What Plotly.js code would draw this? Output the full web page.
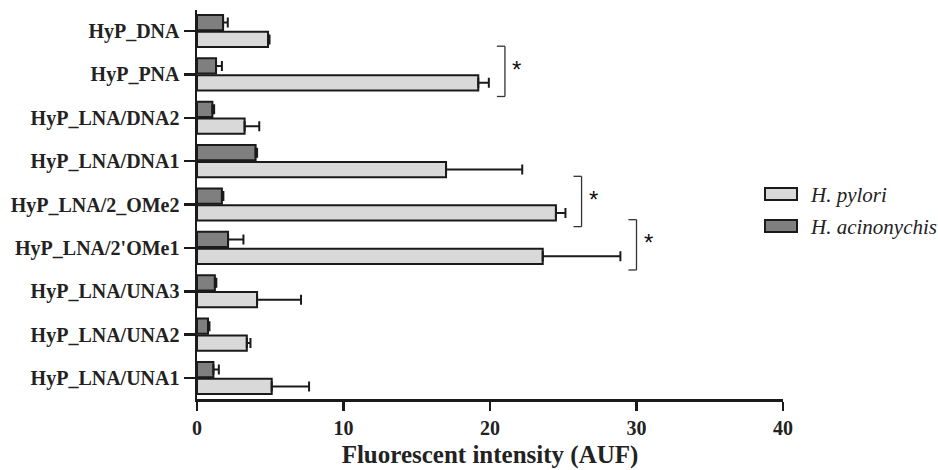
<!DOCTYPE html>
<html>
<head>
<meta charset="utf-8">
<script src="https://cdn.plot.ly/plotly-3.0.1.min.js"></script>
<style>html,body{margin:0;padding:0;background:#fff;}#chart{width:938px;height:470px;}</style>
</head>
<body>
<div id="chart"></div>
<script>
// Categories listed bottom-to-top
const categories = ['HyP_LNA/UNA1', 'HyP_LNA/UNA2', 'HyP_LNA/UNA3', "HyP_LNA/2'OMe1", 'HyP_LNA/2_OMe2', 'HyP_LNA/DNA1', 'HyP_LNA/DNA2', 'HyP_PNA', 'HyP_DNA'];
const pylori = [5.1, 3.4, 4.1, 23.6, 24.5, 17.0, 3.25, 19.2, 4.85];
const pyloriErr = [2.55, 0.25, 3.0, 5.3, 0.65, 5.2, 1.0, 0.72, 0.1];
const acinonychis = [1.12, 0.75, 1.22, 2.12, 1.7, 4.0, 1.05, 1.3, 1.78];
const acinonychisErr = [0.37, 0.1, 0.1, 1.05, 0.1, 0.1, 0.12, 0.4, 0.32];
const zeroErr = [0, 0, 0, 0, 0, 0, 0, 0, 0];
const significant = ['HyP_PNA', 'HyP_LNA/2_OMe2', "HyP_LNA/2'OMe1"];
const seriesNames = ['H. pylori', 'H. acinonychis'];
const seriesColors = ['#d9d9d9', '#7f7f7f'];
const xTicks = [0, 10, 20, 30, 40];

const serif = 'Liberation Serif, Times New Roman, serif';
const outline = {color: '#1a1a1a', width: 2};

const traces = [
  {
    type: 'bar', orientation: 'h', name: seriesNames[0],
    y: categories, x: pylori,
    marker: {color: seriesColors[0], line: outline},
    error_x: {type: 'data', symmetric: false, array: pyloriErr, arrayminus: zeroErr, color: '#1a1a1a', thickness: 2, width: 5},
    showlegend: false
  },
  {
    type: 'bar', orientation: 'h', name: seriesNames[1],
    y: categories, x: acinonychis,
    marker: {color: seriesColors[1], line: outline},
    error_x: {type: 'data', symmetric: false, array: acinonychisErr, arrayminus: zeroErr, color: '#1a1a1a', thickness: 2, width: 5},
    showlegend: false
  }
];

const shapes = [];
const annotations = [];
significant.forEach(function (name) {
  const i = categories.indexOf(name);
  const xb = pylori[i] + pyloriErr[i] + 1.1;
  const yt = i + 0.65, yb = i - 0.51;
  const ln = {color: '#333', width: 1.3};
  shapes.push({type: 'line', xref: 'x', yref: 'y', x0: xb - 0.55, x1: xb, y0: yt, y1: yt, line: ln});
  shapes.push({type: 'line', xref: 'x', yref: 'y', x0: xb, x1: xb, y0: yt, y1: yb, line: ln});
  shapes.push({type: 'line', xref: 'x', yref: 'y', x0: xb - 0.55, x1: xb, y0: yb, y1: yb, line: ln});
  annotations.push({xref: 'x', yref: 'y', x: xb + 0.8, y: i + 0.12, text: '*', showarrow: false,
    xanchor: 'center', yanchor: 'middle', font: {family: 'Liberation Sans, Arial, sans-serif', size: 24, color: '#111'}});
});

// Legend (drawn in paper coordinates: plot area spans x 197..783 px, y 10..399 px)
function px2x(p) { return (p - 197) / 586; }
function px2y(p) { return (399 - p) / 389; }
seriesNames.forEach(function (nm, k) {
  const top = 188 + k * 32;
  shapes.push({type: 'rect', xref: 'paper', yref: 'paper',
    x0: px2x(765), x1: px2x(797), y0: px2y(top), y1: px2y(top + 12),
    fillcolor: seriesColors[k], line: {color: '#1a1a1a', width: 2}});
  annotations.push({xref: 'paper', yref: 'paper', x: px2x(808), y: px2y(top + 7), text: nm,
    showarrow: false, xanchor: 'left', yanchor: 'middle',
    font: {family: serif, size: 21, style: 'italic', color: '#222'}});
});

const layout = {
  width: 938, height: 470,
  margin: {l: 197, r: 155, t: 10, b: 71},
  paper_bgcolor: '#fff', plot_bgcolor: '#fff',
  barmode: 'group', bargap: 0.22, bargroupgap: 0.1,
  showlegend: false,
  xaxis: {
    range: [0, 40], tickvals: xTicks, ticktext: xTicks.map(String),
    showline: true, linewidth: 2.5, linecolor: '#1a1a1a',
    ticks: 'outside', ticklen: 9, tickwidth: 2.5, tickcolor: '#1a1a1a',
    showgrid: false, zeroline: false,
    tickfont: {family: serif, size: 20, weight: 700, color: '#222'},
    title: {text: 'Fluorescent intensity (AUF)', standoff: 8, font: {family: serif, size: 25, weight: 700, color: '#222'}},
    automargin: false, fixedrange: true
  },
  yaxis: {
    type: 'category', categoryorder: 'array', categoryarray: categories,
    range: [-0.484, 8.484],
    showline: true, linewidth: 2.5, linecolor: '#1a1a1a',
    ticks: 'outside', ticklen: 11, tickwidth: 2.5, tickcolor: '#1a1a1a',
    showgrid: false, zeroline: false,
    tickfont: {family: serif, size: 20, weight: 700, color: '#222'},
    automargin: false, fixedrange: true
  },
  shapes: shapes,
  annotations: annotations
};

Plotly.newPlot('chart', traces, layout, {displayModeBar: false, staticPlot: true});
</script>
</body>
</html>
